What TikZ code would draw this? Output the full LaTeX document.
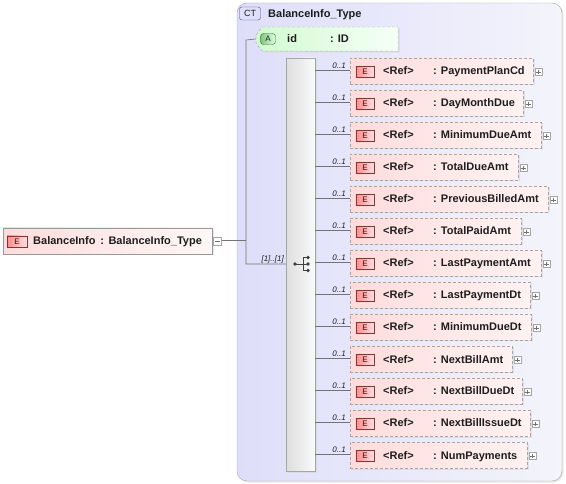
\documentclass[tikz,border=0pt]{standalone}
\usepackage{fontspec}
\setmainfont{Liberation Sans}
\usetikzlibrary{shadows}
\definecolor{lav}{RGB}{222,222,250}
\definecolor{lavr}{RGB}{244,244,252}
\definecolor{pinkl}{RGB}{255,220,220}
\definecolor{pinkr}{RGB}{255,242,242}
\definecolor{greenl}{RGB}{210,250,210}
\definecolor{greenr}{RGB}{246,255,246}
\definecolor{txt}{RGB}{30,30,30}
\tikzset{
  lbl/.style={font=\fontsize{11}{13}\selectfont\bfseries, text=txt, inner sep=0pt},
  mult/.style={font=\fontsize{8}{9}\selectfont\itshape, text=txt, inner sep=0pt},
  conn/.style={draw=black!55, line width=0.6pt},
  shad/.style={drop shadow={shadow xshift=1.5pt,shadow yshift=-1.5pt,fill=black!18}},
  childbox/.style={draw=black!35, dash pattern=on 3pt off 2pt, left color=pinkl, right color=pinkr,
    minimum height=26pt, inner sep=0pt, anchor=west, shad},
  ebadge/.style={draw=red!40!black!80, left color=red!45, right color=red!12, minimum width=18pt,
    minimum height=11pt, inner sep=0pt, font=\fontsize{8}{9}\selectfont, text=red!25!black},
  plusbox/.style={draw=black!35, fill=white, minimum size=7pt, inner sep=0pt,
    path picture={\draw[black!55,line width=0.5pt]
      ([yshift=2.2pt]path picture bounding box.center) -- ([yshift=-2.2pt]path picture bounding box.center)
      ([xshift=-2.2pt]path picture bounding box.center) -- ([xshift=2.2pt]path picture bounding box.center);}},
  minusbox/.style={draw=black!35, fill=white, minimum size=8pt, inner sep=0pt,
    path picture={\draw[black!55,line width=0.5pt]
      ([xshift=-2.4pt]path picture bounding box.center) -- ([xshift=2.4pt]path picture bounding box.center);}},
}
\begin{document}
\begin{tikzpicture}[x=1pt,y=-1pt]
\useasboundingbox (0,0) rectangle (566,484);
% container
\node[draw=black!35, rounded corners=10pt, left color=lav, right color=lavr, minimum width=325pt,
  minimum height=478pt, inner sep=0pt, shad] (ct) at (399.5,242) {};
\node[draw=blue!30!black!70, rounded corners=2.5pt, left color=lav!60!blue!25, right color=lav, minimum width=21pt, minimum height=13pt,
  inner sep=0pt, font=\fontsize{9}{10}\selectfont, text=txt] (ctb) at (250,13.5) {CT};
\node[lbl, anchor=base west] (ctt) at (268,17.5) {BalanceInfo\_Type};
% root element
\node[draw=black!40, left color=pinkl, right color=pinkr!60!white, minimum width=209pt, minimum height=26pt,
  inner sep=0pt, shad] (root) at (107.5,241) {};
\node[ebadge, minimum width=20pt] (rootE) at (17,241.5) {E};
\node[lbl, anchor=base west] (roott) at (33,245) {BalanceInfo\hspace{0.45em}:\hspace{0.4em}BalanceInfo\_Type};
\node[minusbox] (rootm) at (217.5,241) {};
% attribute
\fill[black!15] (257.5,36.5) -- (263.5,28.5) -- (399.5,28.5) -- (399.5,52.5) -- (263.5,52.5) -- (257.5,44.5) -- cycle;
\draw[draw=black!35, dash pattern=on 3pt off 2pt, left color=greenl, right color=greenr]
  (256,35) -- (262,27) -- (398,27) -- (398,51) -- (262,51) -- (256,43) -- cycle;
\coordinate (attr) at (256,39);
\node[draw=green!30!black!80, rounded corners=3pt, left color=green!55!black!50, right color=green!12,
  minimum width=15pt, minimum height=11pt, inner sep=0pt, font=\fontsize{8}{9}\selectfont, text=txt] (ab) at (268,39) {A};
\node[lbl, anchor=base west] (aid) at (287,43) {id};
\node[lbl, anchor=base west] (aty) at (330,43) {: ID};
% sequence bar
\node[draw=black!35, left color=black!13, right color=black!2, minimum width=29pt, minimum height=413pt,
  inner sep=0pt, shad] (seq) at (300.5,264.5) {};
\coordinate (sq) at (302,264);
\fill[black!75] (295,264) circle (1.9pt) (308,257.5) circle (1.9pt) (308,264) circle (1.9pt) (308,270.5) circle (1.9pt);
\draw[black!75, line width=0.8pt] (295,264) -- (303,264) (303,257.5) -- (303,270.5)
  (303,257.5) -- (308,257.5) (303,264) -- (308,264) (303,270.5) -- (308,270.5);
% junction lines
\coordinate (jt) at (246,40);
\coordinate (jm) at (246,240.7);
\coordinate (jb) at (246,264);
\draw[conn] (rootm.east |- jm) -- (jm);
\draw[conn] (attr) -- (jt) -- (jb) -- (seq.west |- jb);
\node[mult, anchor=base east] (card) at (284,262) {[1]..[1]};
% children
\foreach \i/\nm/\r in {1/PaymentPlanCd/533, 2/DayMonthDue/523, 3/MinimumDueAmt/541, 4/TotalDueAmt/518,
  5/PreviousBilledAmt/548, 6/TotalPaidAmt/521, 7/LastPaymentAmt/541, 8/LastPaymentDt/530,
  9/MinimumDueDt/531, 10/NextBillAmt/512, 11/NextBillDueDt/522, 12/NextBillIssueDt/530, 13/NumPayments/527}{
  \pgfmathsetmacro\y{70+32*(\i-1)}
  \pgfmathsetmacro\w{\r-350}
  \node[childbox, minimum width=\w pt] (c\i) at (350,\y+1) {};
  \node[ebadge] (e\i) at (365,\y+2) {E};
  \node[lbl, anchor=base west] (r\i) at (383,\y+5) {<Ref>};
  \node[lbl, anchor=base west] (n\i) at (433,\y+5) {: \nm};
  \node[plusbox] (p\i) at (\r+5.5,\y+2) {};
  \node[mult, anchor=base east] (m\i) at (346,\y-1.5) {0..1};
  \draw[conn] (seq.east |- 0,\y) -- (350,\y);
}
\end{tikzpicture}
\end{document}
